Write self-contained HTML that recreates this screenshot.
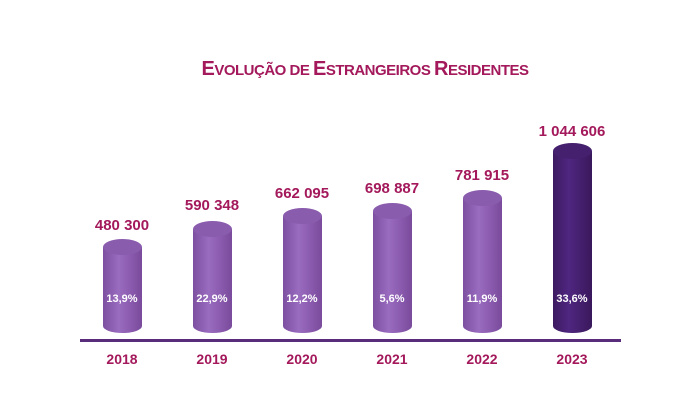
<!DOCTYPE html><html><head><style>body{margin:0;background:#fff;width:700px;height:412px;overflow:hidden}</style></head><body>
<svg width="700" height="412" xmlns="http://www.w3.org/2000/svg" font-family="Liberation Sans, sans-serif">
<defs>
<linearGradient id="g1" x1="0" x2="1"><stop offset="0" stop-color="#7d4fa0"/><stop offset="0.4" stop-color="#9a6cc0"/><stop offset="1" stop-color="#7a4a9c"/></linearGradient>
<linearGradient id="g2" x1="0" x2="1"><stop offset="0" stop-color="#3c1a60"/><stop offset="0.4" stop-color="#4f2680"/><stop offset="1" stop-color="#3a185c"/></linearGradient>
</defs>
<text x="365" y="75" text-anchor="middle" fill="#a3195b" font-size="20" font-weight="bold" letter-spacing="-0.5">E<tspan font-size="15">VOLUÇÃO DE </tspan>E<tspan font-size="15">STRANGEIROS </tspan>R<tspan font-size="15">ESIDENTES</tspan></text>
<g font-size="15" font-weight="bold" fill="#a3195b" text-anchor="middle">
<text x="122" y="230">480 300</text><text x="212" y="210">590 348</text><text x="302" y="198">662 095</text><text x="392" y="193">698 887</text><text x="482" y="180">781 915</text><text x="572" y="136">1 044 606</text>
</g>
<g>
<path d="M103 247 V326 A19.5 7 0 0 0 142 326 V247 Z" fill="url(#g1)"/><ellipse cx="122.5" cy="247" rx="19.5" ry="8" fill="#8a5cae"/>
<path d="M193 229 V326 A19.5 7 0 0 0 232 326 V229 Z" fill="url(#g1)"/><ellipse cx="212.5" cy="229" rx="19.5" ry="8" fill="#8a5cae"/>
<path d="M283 216 V326 A19.5 7 0 0 0 322 326 V216 Z" fill="url(#g1)"/><ellipse cx="302.5" cy="216" rx="19.5" ry="8" fill="#8a5cae"/>
<path d="M373 211 V326 A19.5 7 0 0 0 412 326 V211 Z" fill="url(#g1)"/><ellipse cx="392.5" cy="211" rx="19.5" ry="8" fill="#8a5cae"/>
<path d="M463 198 V326 A19.5 7 0 0 0 502 326 V198 Z" fill="url(#g1)"/><ellipse cx="482.5" cy="198" rx="19.5" ry="8" fill="#8a5cae"/>
<path d="M553 151 V326 A19.5 7 0 0 0 592 326 V151 Z" fill="url(#g2)"/><ellipse cx="572.5" cy="151" rx="19.5" ry="8" fill="#45206e"/>
</g>
<g font-size="11" font-weight="bold" fill="#fff" text-anchor="middle">
<text x="122" y="302">13,9%</text><text x="212" y="302">22,9%</text><text x="302" y="302">12,2%</text><text x="392" y="302">5,6%</text><text x="482" y="302">11,9%</text><text x="572" y="302">33,6%</text>
</g>
<rect x="80" y="339" width="541" height="3" fill="#5a2d7c"/>
<g font-size="14" font-weight="bold" fill="#a3195b" text-anchor="middle">
<text x="122" y="364">2018</text><text x="212" y="364">2019</text><text x="302" y="364">2020</text><text x="392" y="364">2021</text><text x="482" y="364">2022</text><text x="572" y="364">2023</text>
</g>
</svg></body></html>
